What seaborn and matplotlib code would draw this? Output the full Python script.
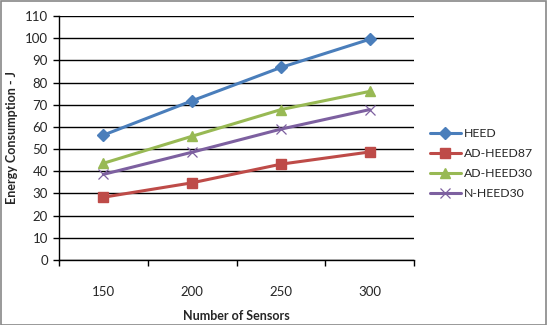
import matplotlib
matplotlib.use("Agg")
import matplotlib.pyplot as plt
import seaborn as sns
import pandas as pd
from matplotlib.patches import Rectangle

categories = ["150", "200", "250", "300"]
series_names = ["HEED", "AD-HEED87", "AD-HEED30", "N-HEED30"]
heed = [56.3, 71.8, 86.8, 99.5]
ad_heed87 = [28.3, 34.8, 43.2, 48.7]
ad_heed30 = [43.6, 55.8, 67.8, 76.0]
n_heed30 = [38.6, 48.6, 59.0, 67.8]
y_ticks = list(range(0, 111, 10))

values = [heed, ad_heed87, ad_heed30, n_heed30]
rows = []
for name, vals in zip(series_names, values):
    for c, v in zip(categories, vals):
        rows.append({"Number of Sensors": c, "Energy": v, "Series": name})
df = pd.DataFrame(rows)

sns.set_theme(style="white")
plt.rcParams["font.family"] = ["Lato", "DejaVu Sans"]

fig = plt.figure(figsize=(5.47, 3.25), dpi=100)
ax = fig.add_axes([59/547, 65/325, (414-59)/547, (260-16)/325])

palette = {"HEED": "#4A7EBB", "AD-HEED87": "#BE4B48",
           "AD-HEED30": "#98B954", "N-HEED30": "#7D60A0"}
markers = {"HEED": "D", "AD-HEED87": "s", "AD-HEED30": "^", "N-HEED30": "x"}
sizes = {"HEED": 6, "AD-HEED87": 7.5, "AD-HEED30": 7.5, "N-HEED30": 7}

for name in series_names:
    sub = df[df["Series"] == name]
    sns.lineplot(data=sub, x="Number of Sensors", y="Energy", ax=ax,
                 color=palette[name], marker=markers[name],
                 markersize=sizes[name], linewidth=2.2, label=name,
                 markeredgecolor=palette[name], markeredgewidth=1.0 if name != "N-HEED30" else 0.9,
                 sort=False)

ax.set_xlim(-0.5, 3.5)
ax.set_ylim(0, 110)
ax.set_yticks(y_ticks)
ax.set_yticklabels([str(t) for t in y_ticks], fontsize=9.5)
ax.set_xticks([-0.5, 0.5, 1.5, 2.5, 3.5])
ax.set_xticklabels([])
ax.set_xticks(range(len(categories)), minor=True)
ax.set_xticklabels(categories, minor=True, fontsize=9.5)
ax.tick_params(axis="x", which="major", direction="out", length=4, width=1, color="black", bottom=True)
ax.tick_params(axis="x", which="minor", length=0, pad=19)
ax.tick_params(axis="y", direction="out", length=4, width=1, color="black", left=True, pad=4)

ax.grid(axis="y", color="black", linewidth=1)
ax.set_axisbelow(True)
for s in ["top", "right"]:
    ax.spines[s].set_visible(False)
for s in ["left", "bottom"]:
    ax.spines[s].set_color("black")
    ax.spines[s].set_linewidth(1)

ax.set_xlabel("Number of Sensors", fontsize=9, fontweight="bold", labelpad=8)
ax.set_ylabel("Energy Consumption - J", fontsize=9, fontweight="bold", labelpad=5)

leg = ax.legend(loc="center left", bbox_to_anchor=(1.045, 0.395), frameon=False,
                fontsize=8.8, handlelength=2.5, labelspacing=0.75, handletextpad=0.3,
                borderaxespad=0, borderpad=0)

fig.patches.append(Rectangle((0.5/547, 0.5/325), 545.5/547, 323.5/325, transform=fig.transFigure,
                             fill=False, edgecolor="#888888", linewidth=1.2))
fig.savefig("out.png", dpi=100, facecolor="white")
